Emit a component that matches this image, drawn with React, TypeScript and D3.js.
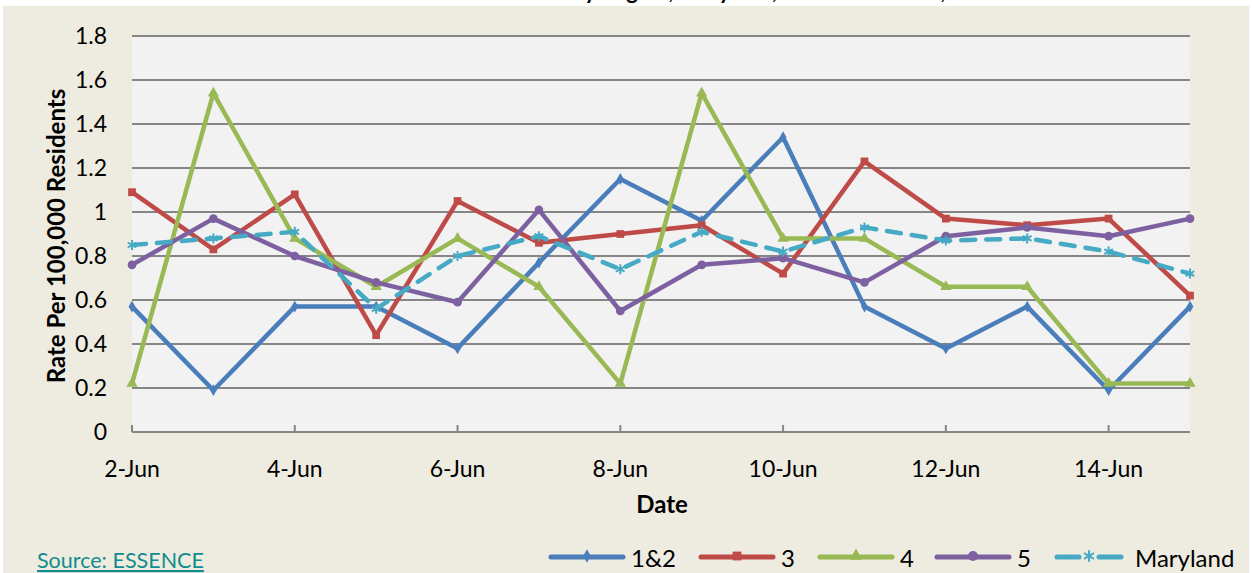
import React from 'react';
import * as d3 from 'd3';

const dates = ['2-Jun', '3-Jun', '4-Jun', '5-Jun', '6-Jun', '7-Jun', '8-Jun', '9-Jun', '10-Jun', '11-Jun', '12-Jun', '13-Jun', '14-Jun', '15-Jun'];
const tickDates = ['2-Jun', '4-Jun', '6-Jun', '8-Jun', '10-Jun', '12-Jun', '14-Jun'];
const yTicks = [0, 0.2, 0.4, 0.6, 0.8, 1, 1.2, 1.4, 1.6, 1.8];

const region12 = [0.57, 0.19, 0.57, 0.57, 0.38, 0.77, 1.15, 0.96, 1.34, 0.57, 0.38, 0.57, 0.19, 0.57];
const region3 = [1.09, 0.83, 1.08, 0.44, 1.05, 0.86, 0.9, 0.94, 0.72, 1.23, 0.97, 0.94, 0.97, 0.62];
const region4 = [0.22, 1.54, 0.88, 0.66, 0.88, 0.66, 0.22, 1.54, 0.88, 0.88, 0.66, 0.66, 0.22, 0.22];
const region5 = [0.76, 0.97, 0.8, 0.68, 0.59, 1.01, 0.55, 0.76, 0.79, 0.68, 0.89, 0.93, 0.89, 0.97];
const maryland = [0.85, 0.88, 0.91, 0.56, 0.8, 0.89, 0.74, 0.91, 0.82, 0.93, 0.87, 0.88, 0.82, 0.72];

type Marker = 'diamond' | 'square' | 'triangle' | 'circle' | 'star';

const series: { name: string; values: number[]; color: string; marker: Marker; dashed?: boolean }[] = [
  { name: '1&2', values: region12, color: '#4A7EBB', marker: 'diamond' },
  { name: '3', values: region3, color: '#BE4B48', marker: 'square' },
  { name: '4', values: region4, color: '#98B954', marker: 'triangle' },
  { name: '5', values: region5, color: '#7D60A0', marker: 'circle' },
  { name: 'Maryland', values: maryland, color: '#46AAC5', marker: 'star', dashed: true },
];

const W = 1252;
const H = 573;
const plot = { left: 132, right: 1190, top: 36, bottom: 432 };
const font = 'Lato, "Open Sans", sans-serif';

const symbolType: Record<Marker, d3.SymbolType> = {
  diamond: d3.symbolDiamond,
  square: d3.symbolSquare,
  triangle: d3.symbolTriangle,
  circle: d3.symbolCircle,
  star: d3.symbolAsterisk,
};
const symbolSize: Record<Marker, number> = {
  diamond: 40,
  square: 60,
  triangle: 55,
  circle: 60,
  star: 70,
};

function MarkerGlyph({ m, color, x, y, scale = 1 }: { m: Marker; color: string; x: number; y: number; scale?: number }) {
  const path = d3.symbol().type(symbolType[m]).size(symbolSize[m] * scale)() || '';
  if (m === 'star') {
    return <path d={path} transform={`translate(${x},${y})`} fill="none" stroke={color} strokeWidth={2} />;
  }
  return <path d={path} transform={`translate(${x},${y})`} fill={color} />;
}

export default function App() {
  const x = d3.scalePoint<string>().domain(dates).range([plot.left, plot.right]).padding(0);
  const y = d3.scaleLinear().domain([0, 1.8]).range([plot.bottom, plot.top]);

  const line = d3
    .line<number>()
    .x((_, i) => x(dates[i]) as number)
    .y((d) => y(d));

  const legendItems = [
    { s: series[0], x0: 551, len: 72, gap: 8 },
    { s: series[1], x0: 701, len: 72, gap: 8 },
    { s: series[2], x0: 820, len: 72, gap: 8 },
    { s: series[3], x0: 937, len: 72, gap: 8 },
    { s: series[4], x0: 1057, len: 64, gap: 14 },
  ];
  const legendY = 557;

  return (
    <svg
      width={W}
      height={H}
      viewBox={`0 0 ${W} ${H}`}
      style={{ position: 'absolute', left: 0, top: 0, display: 'block' }}
    >
      <rect x={0} y={0} width={W} height={H} fill="#ffffff" />
      {/* title, mostly cut off by the page edge */}
      <text x={640} y={-1} textAnchor="middle" fontFamily={font} fontWeight="bold" fontSize={22} fill="#000">
        Heat-Related Illness ED Visits by Region, Maryland, June 2 - June 15, 2013
      </text>
      <rect x={3} y={6} width={W - 6} height={H - 6} fill="#EEEBE0" />
      <rect x={plot.left} y={plot.top} width={plot.right - plot.left} height={plot.bottom - plot.top} fill="#F2F2F2" />

      {/* gridlines */}
      {yTicks.map((t) => (
        <line key={t} x1={plot.left} x2={plot.right} y1={y(t)} y2={y(t)} stroke="#868686" strokeWidth={2} />
      ))}
      {/* x ticks */}
      {tickDates.map((d) => (
        <line key={d} x1={x(d)} x2={x(d)} y1={plot.bottom} y2={plot.bottom - 7} stroke="#868686" strokeWidth={2} />
      ))}

      {/* y labels */}
      {yTicks.map((t) => (
        <text key={t} x={107} y={y(t)} dy="0.36em" textAnchor="end" fontFamily={font} fontSize={23} fill="#000">
          {d3.format('~g')(t)}
        </text>
      ))}
      {/* x labels */}
      {tickDates.map((d) => (
        <text key={d} x={x(d)} y={477} textAnchor="middle" fontFamily={font} fontSize={23} fill="#000">
          {d}
        </text>
      ))}

      <text
        transform={`translate(65,${(plot.top + plot.bottom) / 2 + 2}) rotate(-90)`}
        textAnchor="middle"
        fontFamily={font}
        fontWeight="bold"
        fontSize={24}
        fill="#000"
      >
        Rate Per 100,000 Residents
      </text>
      <text x={662} y={513} textAnchor="middle" fontFamily={font} fontWeight="bold" fontSize={24} fill="#000">
        Date
      </text>

      {/* series */}
      {series.map((s) => (
        <g key={s.name}>
          <path
            d={line(s.values) || ''}
            fill="none"
            stroke={s.color}
            strokeWidth={4.5}
            strokeLinejoin="round"
            strokeLinecap={s.dashed ? 'round' : 'butt'}
            strokeDasharray={s.dashed ? '14 11' : undefined}
          />
          {s.values.map((v, i) => (
            <MarkerGlyph key={i} m={s.marker} color={s.color} x={x(dates[i]) as number} y={y(v)} />
          ))}
        </g>
      ))}

      {/* source */}
      <text x={37} y={568} fontFamily={font} fontSize={21.5} fill="#128C8C" textDecoration="underline">
        Source: ESSENCE
      </text>

      {/* legend */}
      {legendItems.map(({ s, x0, len, gap }) => (
        <g key={s.name}>
          <line
            x1={x0}
            x2={x0 + len}
            y1={legendY}
            y2={legendY}
            stroke={s.color}
            strokeWidth={5}
            strokeLinecap="round"
            strokeDasharray={s.dashed ? '22 20' : undefined}
          />
          <MarkerGlyph m={s.marker} color={s.color} x={x0 + len / 2} y={legendY - 1} scale={1.3} />
          <text x={x0 + len + gap} y={legendY + 1} dy="0.36em" fontFamily={font} fontSize={24} fill="#000">
            {s.name}
          </text>
        </g>
      ))}
    </svg>
  );
}
